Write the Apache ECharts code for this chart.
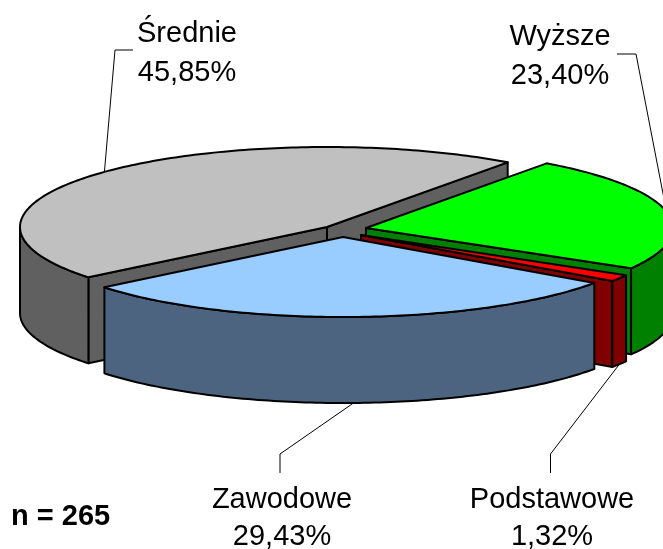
<!DOCTYPE html>
<html><head><meta charset="utf-8">
<style>html,body{margin:0;padding:0;background:#fff}#c{width:663px;height:549px}</style>
<script src="https://cdn.jsdelivr.net/npm/echarts@6/dist/echarts.min.js"></script>
</head><body><div id="c"></div>
<script>
const categories = ['Średnie', 'Wyższe', 'Podstawowe', 'Zawodowe'];
const shares = [45.85, 23.40, 1.32, 29.43];
const sampleNote = 'n = 265';

const topColors = ['#C0C0C0', '#00FF00', '#FF0000', '#99CCFF'];
const sideColors = ['#606060', '#008000', '#800000', '#4D6480'];
const sliceCentres = [[327, 227], [366, 228], [361, 235], [343, 237]];
const labelCentres = [[187, 34], [560, 37], [552, 500], [282, 500]];
const labelGaps = [39, 39, 37, 37];
const leaderElbows = [[[115, 50], [133, 50]], [[636, 54], [617, 54]], [[550.5, 454], [550.5, 473]], [[280, 454], [280, 473]]];
const RX = 307, RY = 80, DEPTH = 86, START_ANGLE = 219;

const total = shares.reduce((a, b) => a + b, 0);
const rad = d => d * Math.PI / 180;
const rim = (c, a, dy) => [c[0] + RX * Math.cos(rad(a)), c[1] - RY * Math.sin(rad(a)) + (dy || 0)];
const arc = (c, from, to, dy) => {
  const n = Math.max(1, Math.ceil(Math.abs(to - from)));
  const pts = [];
  for (let i = 0; i <= n; i++) pts.push(rim(c, from + (to - from) * i / n, dy));
  return pts;
};
const startOf = i => START_ANGLE - shares.slice(0, i).reduce((a, b) => a + b, 0) / total * 360;

function renderItem(params, api) {
  const i = params.dataIndex;
  const value = api.value(0);
  const a1 = startOf(i), a2 = a1 - value / total * 360;
  const c = sliceCentres[i];
  const edge = { stroke: '#000', lineWidth: 2, lineJoin: 'round' };
  const poly = (points, fill) => ({ type: 'polygon', shape: { points }, style: { fill, ...edge } });
  const children = [];
  const face = a => poly([c, rim(c, a), rim(c, a, DEPTH), [c[0], c[1] + DEPTH]], sideColors[i]);
  if (Math.cos(rad(a1)) < 0) children.push(face(a1));
  if (Math.cos(rad(a2)) > 0) children.push(face(a2));
  [-1, 0, 1].forEach(k => {
    const lo = Math.max(a2, 360 * k - 180), hi = Math.min(a1, 360 * k);
    if (hi > lo) children.push(poly(arc(c, hi, lo).concat(arc(c, lo, hi, DEPTH)), sideColors[i]));
  });
  children.push(poly([c].concat(arc(c, a1, a2)), topColors[i]));
  return { type: 'group', children };
}

function renderLabel(params, api) {
  const i = params.dataIndex;
  const value = api.value(0);
  const a1 = startOf(i), a2 = a1 - value / total * 360, mid = (a1 + a2) / 2;
  const anchor = rim(sliceCentres[i], mid, Math.sin(rad(mid)) < 0 ? DEPTH : 0);
  const pct = value.toFixed(2).replace('.', ',') + '%';
  const [lx, ly] = labelCentres[i];
  const font = '29px "Liberation Sans", Arial, sans-serif';
  const txt = (text, y) => ({ type: 'text', style: { text, x: lx, y, font, fill: '#000', align: 'center', verticalAlign: 'middle' } });
  return { type: 'group', children: [
    { type: 'polyline', shape: { points: [anchor].concat(leaderElbows[i]) }, style: { stroke: '#000', lineWidth: 1, fill: null } },
    txt(categories[i], ly), txt(pct, ly + labelGaps[i])
  ] };
}

const chart = echarts.init(document.getElementById('c'), null, { renderer: 'canvas' });
chart.setOption({
  animation: false,
  backgroundColor: '#fff',
  title: { text: sampleNote, left: 6, top: 497, textStyle: { fontFamily: '"Liberation Sans", Arial, sans-serif', fontSize: 29, fontWeight: 'bold', color: '#000' } },
  tooltip: { show: false },
  series: [
    { type: 'custom', coordinateSystem: 'none', renderItem: renderLabel, data: shares.map(v => [v]), silent: true, z: 1 },
    { type: 'custom', coordinateSystem: 'none', renderItem, data: shares.map(v => [v]), silent: true, z: 2 }
  ]
});
</script></body></html>
